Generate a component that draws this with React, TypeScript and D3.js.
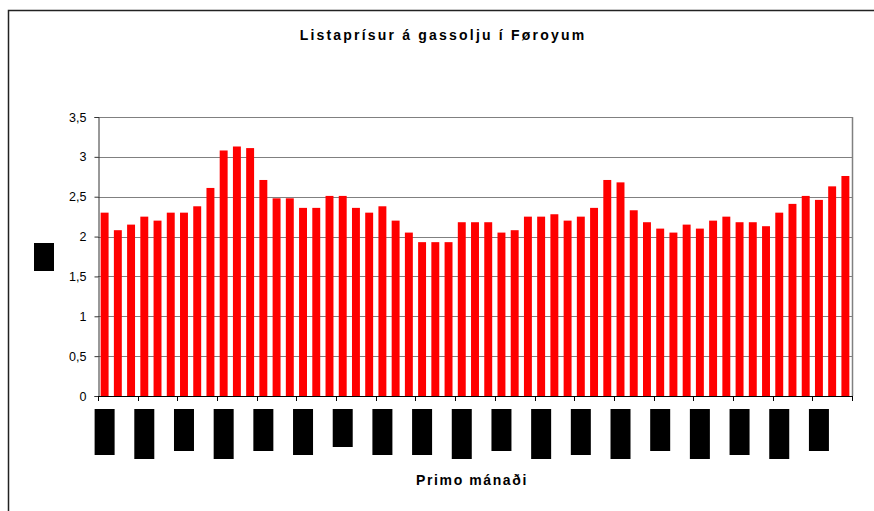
import React, { useRef, useEffect } from "react";
import * as d3 from "d3";

// monthly list price of gas oil, one bar per month
const prices = [
  2.3, 2.08, 2.15, 2.25, 2.2, 2.3, 2.3, 2.38, 2.61, 3.08,
  3.13, 3.11, 2.71, 2.48, 2.48, 2.36, 2.36, 2.51, 2.51, 2.36,
  2.3, 2.38, 2.2, 2.05, 1.93, 1.93, 1.93, 2.18, 2.18, 2.18,
  2.05, 2.08, 2.25, 2.25, 2.28, 2.2, 2.25, 2.36, 2.71, 2.68,
  2.33, 2.18, 2.1, 2.05, 2.15, 2.1, 2.2, 2.25, 2.18, 2.18,
  2.13, 2.3, 2.41, 2.51, 2.46, 2.63, 2.76,
];
const yTicks = [0, 0.5, 1, 1.5, 2, 2.5, 3, 3.5];
const title = "Listaprísur á gassolju í Føroyum";
const xTitle = "Primo mánaði";

// x labels came out as solid black blocks, each one a bit different in length
const labelBlockHeights = [46, 50, 42, 50, 42, 46, 38, 46, 46, 50, 42, 50, 46, 50, 42, 50, 46, 50, 42];

const W = 874;
const H = 511;
const M = { left: 98, right: 852, top: 117, bottom: 396 };

export default function App() {
  const svgRef = useRef<SVGSVGElement>(null);

  useEffect(() => {
    const svg = d3.select(svgRef.current);
    svg.selectAll("*").remove();

    const idx = prices.map((_, i) => i);
    const x = d3.scaleBand<number>()
      .domain(idx)
      .range([M.left, M.right])
      .paddingInner(0.4)
      .paddingOuter(0.2);
    const step = x.step();
    const y = d3.scaleLinear().domain([0, 3.5]).range([M.bottom, M.top]);

    // outer frame
    svg.append("rect")
      .attr("x", 8.5).attr("y", 10.5)
      .attr("width", W + 20).attr("height", H + 20)
      .attr("fill", "#fff").attr("stroke", "#222").attr("stroke-width", 1.5);

    // grid
    svg.append("g")
      .selectAll("line")
      .data(yTicks.slice(1))
      .join("line")
      .attr("x1", M.left).attr("x2", M.right)
      .attr("y1", d => Math.round(y(d)) + 0.5).attr("y2", d => Math.round(y(d)) + 0.5)
      .attr("stroke", "#808080");
    svg.append("line")
      .attr("x1", M.right + 0.5).attr("x2", M.right + 0.5)
      .attr("y1", M.top).attr("y2", M.bottom)
      .attr("stroke", "#808080").attr("stroke-width", 1.5);

    // bars
    svg.append("g")
      .selectAll("rect")
      .data(prices)
      .join("rect")
      .attr("x", (d, i) => x(i)!)
      .attr("width", x.bandwidth())
      .attr("y", d => y(d))
      .attr("height", d => M.bottom - y(d))
      .attr("fill", "#ff0000");

    // y axis
    const yAxis = d3.axisLeft(y)
      .tickValues(yTicks)
      .tickSize(4)
      .tickPadding(8)
      .tickFormat(d => String(d).replace(".", ","));
    const gy = svg.append("g")
      .attr("transform", `translate(${M.left + 0.5},0)`)
      .call(yAxis);
    gy.select(".domain").attr("stroke", "#333");
    gy.selectAll("line").attr("stroke", "#333");
    gy.selectAll("text")
      .attr("font-family", "Arial, 'Liberation Sans', sans-serif")
      .attr("font-size", 12.5)
      .attr("fill", "#000");

    // x axis: ticks every third month
    svg.append("line")
      .attr("x1", M.left).attr("x2", M.right + 1)
      .attr("y1", M.bottom + 0.5).attr("y2", M.bottom + 0.5)
      .attr("stroke", "#000");
    const tickIdx = d3.range(0, prices.length + 1, 3);
    svg.append("g")
      .selectAll("line")
      .data(tickIdx)
      .join("line")
      .attr("x1", d => Math.round(M.left + d * step) + 0.5)
      .attr("x2", d => Math.round(M.left + d * step) + 0.5)
      .attr("y1", M.bottom).attr("y2", M.bottom + 5)
      .attr("stroke", "#000");

    // label blocks at each third month
    svg.append("g")
      .selectAll("rect")
      .data(labelBlockHeights)
      .join("rect")
      .attr("x", (d, i) => x(i * 3)! + x.bandwidth() / 2 - 10)
      .attr("y", 409)
      .attr("width", 20)
      .attr("height", d => d)
      .attr("fill", "#000");

    // y axis title (renders as a black block)
    svg.append("rect")
      .attr("x", 34).attr("y", 243).attr("width", 20).attr("height", 28)
      .attr("fill", "#000");

    svg.append("text")
      .attr("x", 443).attr("y", 40)
      .attr("text-anchor", "middle")
      .attr("font-family", "Arial, 'Liberation Sans', sans-serif")
      .attr("font-weight", "bold")
      .attr("font-size", 14)
      .attr("letter-spacing", 2.2)
      .text(title);

    svg.append("text")
      .attr("x", 472).attr("y", 485)
      .attr("text-anchor", "middle")
      .attr("font-family", "Arial, 'Liberation Sans', sans-serif")
      .attr("font-weight", "bold")
      .attr("font-size", 14)
      .attr("letter-spacing", 1.6)
      .text(xTitle);
  }, []);

  return (
    <svg
      ref={svgRef}
      width={W}
      height={H}
      style={{ position: "absolute", left: 0, top: 0, background: "#fff" }}
    />
  );
}
